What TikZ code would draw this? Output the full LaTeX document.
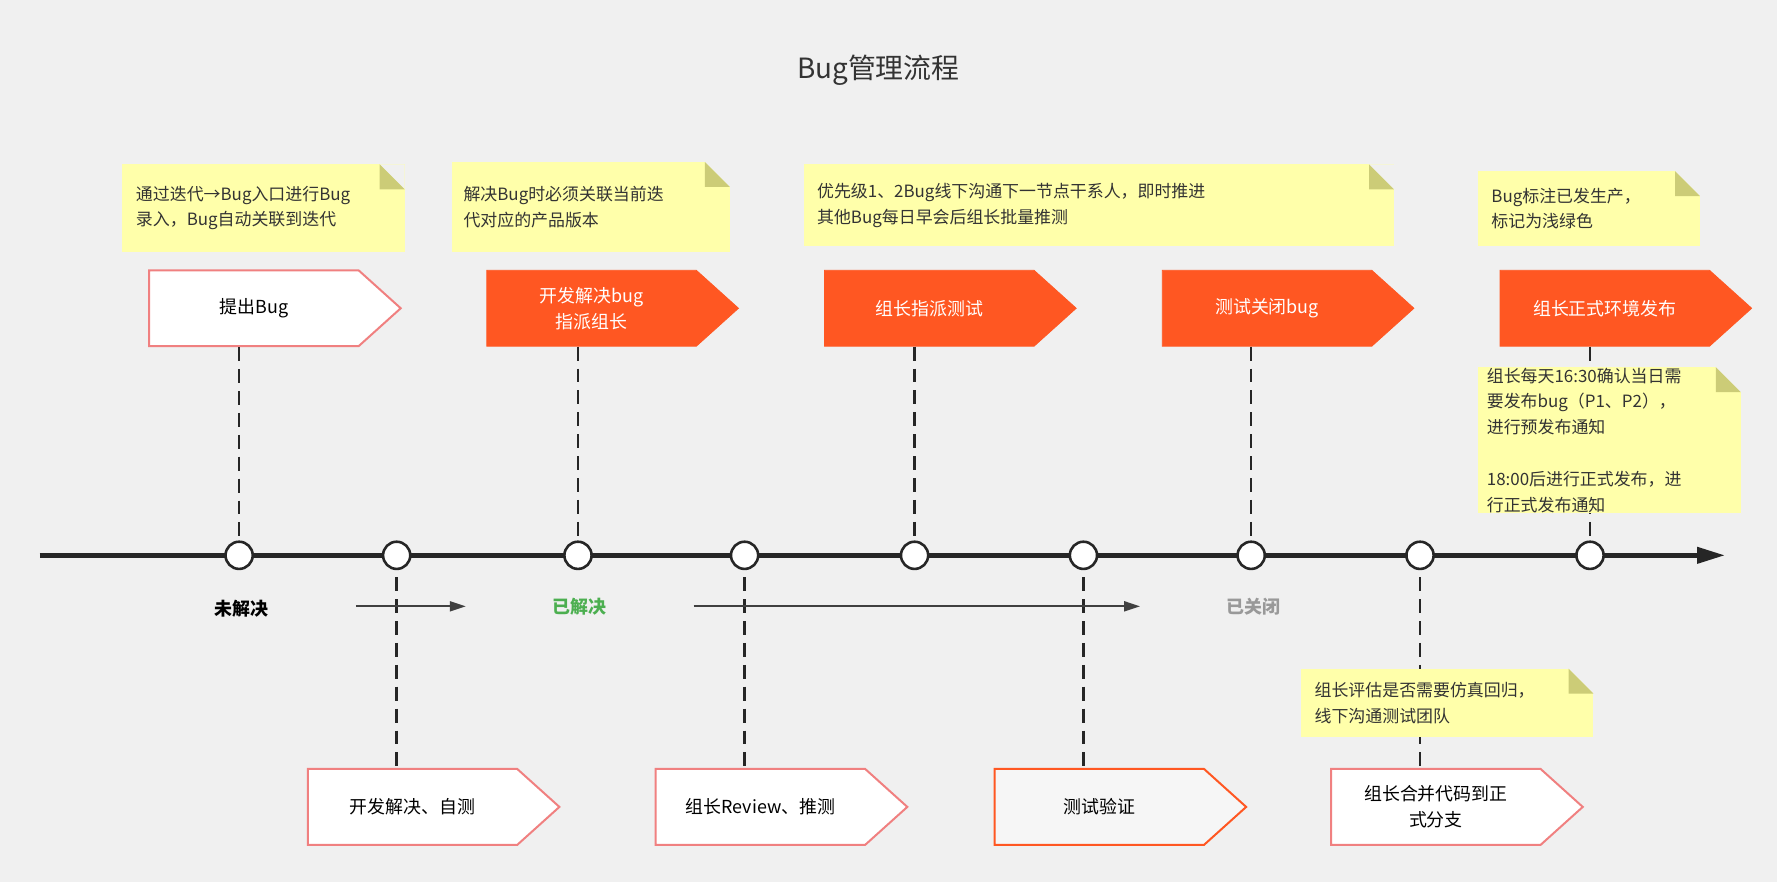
\documentclass[tikz,border=0pt]{standalone}
\usepackage{fontspec}
\setmainfont{Noto Sans CJK SC}
\usetikzlibrary{positioning}
\usetikzlibrary{shapes.symbols}
\usetikzlibrary{arrows.meta}
\definecolor{bg}{HTML}{F0F0F0}
\definecolor{orange}{HTML}{FF5722}
\definecolor{pinkline}{HTML}{F08080}
\definecolor{noteyellow}{HTML}{FFFFAA}
\definecolor{notefold}{HTML}{CCCC77}
\definecolor{txt}{HTML}{333333}
\definecolor{okgreen}{HTML}{4CAF50}
\newcommand\unitpx{0.02cm}
\tikzset{
  flowstep/.style = {signal, signal to=east, signal pointer angle=84, minimum width=222*\unitpx, minimum height=67*\unitpx, inner sep=0, align=center, font=\fontsize{9}{13}\selectfont},
  donestep/.style = {flowstep, fill=orange, draw=orange, text=white},
  openstep/.style = {flowstep, fill=white, draw=pinkline, line width=1pt, text=black},
  note/.style = {rectangle, fill=noteyellow, inner sep=0, align=left, text=txt, font=\fontsize{8.5}{13}\selectfont,
    path picture={
      \fill[bg] ([xshift=-0.44cm]path picture bounding box.north east) -- (path picture bounding box.north east) -- ([yshift=-0.44cm]path picture bounding box.north east) -- cycle;
      \fill[notefold] ([xshift=-0.44cm]path picture bounding box.north east) -- ([yshift=-0.44cm]path picture bounding box.north east) -- ([xshift=-0.44cm,yshift=-0.44cm]path picture bounding box.north east) -- cycle;
    }},
  tick/.style = {circle, draw=black!85, fill=white, line width=1.3pt, minimum size=24*\unitpx, inner sep=0},
  link/.style = {line width=1.3pt, dash pattern=on 7pt off 4pt, black!85},
  status/.style = {font=\fontsize{9}{11}\selectfont\bfseries},
}
\begin{document}
\begin{tikzpicture}[x=0.02cm, y=-0.02cm]
\fill[bg] (0,0) rectangle (1568,778);
\useasboundingbox (0,0) rectangle (1568,778);
\node[font=\fontsize{14}{16}\selectfont, text=txt] (title) at (775,62) {Bug管理流程};

% timeline
\coordinate (start) at (35,490);
\coordinate (end) at (1522,490);
\draw[line width=2.2pt, black!85, -{Triangle[length=14pt,width=8pt]}] (start) -- (end);

% ticks on the line
\foreach \x/\n in {211/t1, 350/t2, 510/t3, 657/t4, 807/t5, 956/t6, 1104/t7, 1253/t8, 1403/t9}
  \coordinate (\n) at (\x,490);

% top steps
\node[openstep] (raise) at (224,272) {提出Bug};
\node[donestep] (fix) at (522,272) {开发解决bug\\指派组长};
\node[donestep] (assign) at (820,272) {组长指派测试};
\node[donestep] (close) at (1118,272) {测试关闭bug};
\node[donestep] (release) at (1416,272) {组长正式环境发布};

% bottom steps
\node[openstep] (selftest) at (364,712) {开发解决、自测};
\node[openstep] (review) at (671,712) {组长Review、推测};
\node[openstep, fill=bg!60!white, draw=orange] (verify) at (970,712) {测试验证};
\node[openstep] (merge) at (1267,712) {组长合并代码到正\\式分支};

% dashed links
\draw[link] (raise.south -| t1) -- (t1);
\draw[link] (fix.south -| t3) -- (t3);
\draw[link] (assign.south -| t5) -- (t5);
\draw[link] (close.south -| t7) -- (t7);
\draw[link] (release.south -| t9) -- (t9);
\draw[link] (t2) -- (selftest.north -| t2);
\draw[link] (t4) -- (review.north -| t4);
\draw[link] (t6) -- (verify.north -| t6);
\draw[link] (t8) -- (merge.north -| t8);

\foreach \n in {t1,t2,t3,t4,t5,t6,t7,t8,t9}
  \node[tick] at (\n) {};

% notes
\node[note, minimum width=249*\unitpx, minimum height=77*\unitpx, text width=225*\unitpx] (n1) at (232.5,183.5) {通过迭代→Bug入口进行Bug\\录入，Bug自动关联到迭代};
\node[note, minimum width=245*\unitpx, minimum height=79*\unitpx, text width=225*\unitpx] (n2) at (521.5,182.5) {解决Bug时必须关联当前迭\\代对应的产品版本};
\node[note, minimum width=521*\unitpx, minimum height=72*\unitpx, text width=497*\unitpx] (n3) at (969.5,181) {优先级1、2Bug线下沟通下一节点干系人，即时推进\\其他Bug每日早会后组长批量推测};
\node[note, minimum width=196*\unitpx, minimum height=66*\unitpx, text width=172*\unitpx] (n4) at (1402,184) {Bug标注已发生产，\\标记为浅绿色};
\node[note, minimum width=232*\unitpx, minimum height=129*\unitpx, text width=216*\unitpx] (n5) at (1420,388.5) {组长每天16:30确认当日需\\要发布bug（P1、P2），\\进行预发布通知\\[13pt]18:00后进行正式发布，进\\行正式发布通知};
\node[note, minimum width=258*\unitpx, minimum height=60*\unitpx, text width=234*\unitpx] (n6) at (1277,620) {组长评估是否需要仿真回归，\\线下沟通测试团队};

% status
\node[status, text=black] (open) at (213,537) {未解决};
\node[status, text=okgreen] (solved) at (511,535) {已解决};
\node[status, text=black!40] (closed) at (1106,535) {已关闭};
\coordinate (a1s) at (314,535);
\coordinate (a1e) at (411,535);
\coordinate (a2s) at (612,535);
\coordinate (a2e) at (1006,535);
\draw[line width=1pt, black!75, -{Triangle[length=8pt,width=5pt]}] (a1s) -- (a1e);
\draw[line width=1pt, black!75, -{Triangle[length=8pt,width=5pt]}] (a2s) -- (a2e);
\end{tikzpicture}
\end{document}
